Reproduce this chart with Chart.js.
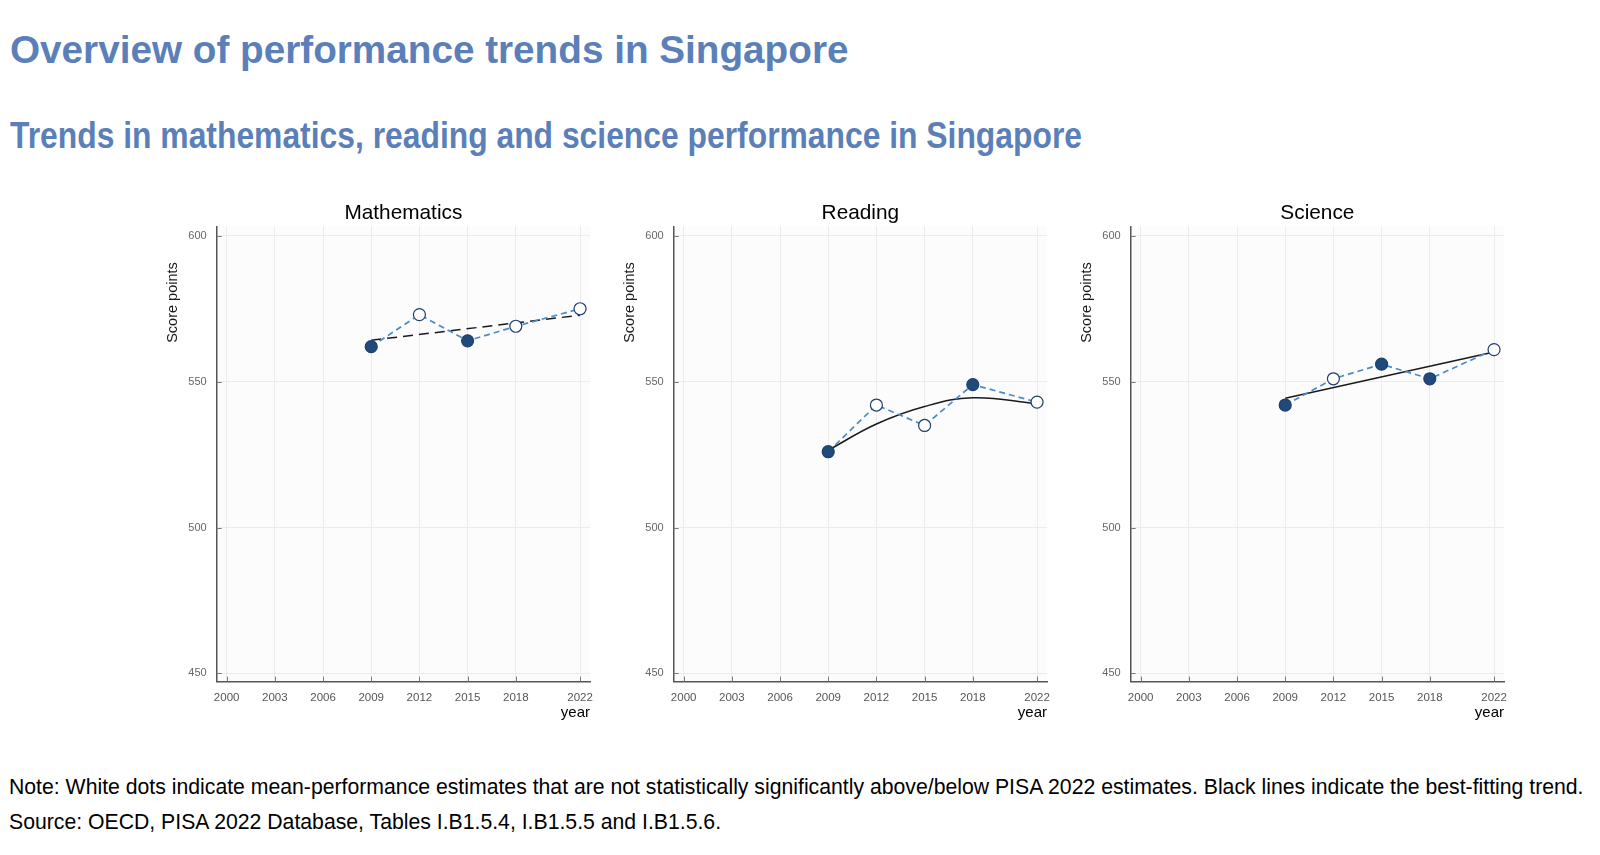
<!DOCTYPE html>
<html>
<head>
<meta charset="utf-8">
<script src="https://cdn.jsdelivr.net/npm/chart.js@4.4.0/dist/chart.umd.min.js"></script>
<style>
  html, body { margin: 0; padding: 0; background: #ffffff; }
  body { width: 1600px; height: 855px; position: relative; overflow: hidden; font-family: "Liberation Sans", Arial, sans-serif; }
  .txt { position: absolute; white-space: nowrap; line-height: 1; }
  #title { left: 10px; font-weight: bold; font-size: 38.7px; color: #5b7fb9; }
  #subtitle { left: 10px; font-weight: bold; font-size: 37px; color: #5b7fb9; transform-origin: 0 0; }
  .note { left: 9px; color: #000; font-size: 22px; }
  canvas { position: absolute; top: 190px; }
</style>
</head>
<body>
<div id="title" class="txt">Overview of performance trends in Singapore</div>
<div id="subtitle" class="txt">Trends in mathematics, reading and science performance in Singapore</div>
<canvas id="cMath" width="450" height="545" style="left:150px"></canvas>
<canvas id="cRead" width="450" height="545" style="left:607px"></canvas>
<canvas id="cSci" width="450" height="545" style="left:1064px"></canvas>
<div id="note1" class="txt note">Note: White dots indicate mean-performance estimates that are not statistically significantly above/below PISA 2022 estimates. Black lines indicate the best-fitting trend.</div>
<div id="note2" class="txt note">Source: OECD, PISA 2022 Database, Tables I.B1.5.4, I.B1.5.5 and I.B1.5.6.</div>
<script>
// ---------- data ----------
const years = [2009, 2012, 2015, 2018, 2022];
const mathScores = [562, 573, 564, 569, 575];
const readingScores = [526, 542, 535, 549, 543];
const scienceScores = [542, 551, 556, 551, 561];
// true = significantly different from 2022 (dark dot), false = white dot
const mathSignificant = [true, false, true, false, false];
const readingSignificant = [true, false, false, true, false];
const scienceSignificant = [true, false, true, true, false];
// best-fitting trend lines
const mathTrendYears = [2009, 2022];
const mathTrend = [564.2, 572.8];
const readingTrendYears = [2009, 2012, 2015, 2018, 2022];
const readingTrend = [526.5, 535.5, 541.5, 544.5, 542.5];
const scienceTrendYears = [2009, 2022];
const scienceTrend = [544.3, 560.2];
// axis ticks
const xTicks = [2000, 2003, 2006, 2009, 2012, 2015, 2018, 2022];
const yTicks = [450, 500, 550, 600];
const panelTitles = ["Mathematics", "Reading", "Science"];

// ---------- text layout ----------
function placeBaseline(el, baseline) {
  const fs = parseFloat(getComputedStyle(el).fontSize);
  el.style.top = (baseline - 0.8465 * fs) + "px";
}
const t = document.getElementById("title");
placeBaseline(t, 63.3);
const st = document.getElementById("subtitle");
const stw = st.getBoundingClientRect().width;
st.style.transform = "scaleX(" + (1072 / stw) + ")";
placeBaseline(st, 148.3);
const n1 = document.getElementById("note1");
const n2 = document.getElementById("note2");
const nw = n1.getBoundingClientRect().width;
const nfs = 22 * 1576 / nw;
n1.style.fontSize = nfs + "px";
n2.style.fontSize = nfs + "px";
placeBaseline(n1, 786.7 + 0.358 * nfs);
placeBaseline(n2, 821.4 + 0.358 * nfs);

// ---------- charts ----------
Chart.defaults.font.family = '"Liberation Sans", Arial, sans-serif';
const FONT = '"Liberation Sans", Arial, sans-serif';

const bgPlugin = {
  id: "plotBg",
  beforeDraw(chart) {
    const a = chart.chartArea, c = chart.ctx;
    c.save();
    c.fillStyle = "#fcfcfc";
    c.fillRect(a.left, a.top, a.right - a.left, a.bottom - a.top);
    c.restore();
  }
};
const innerTicks = {
  id: "innerTicks",
  afterDraw(chart) {
    const a = chart.chartArea, c = chart.ctx;
    const xs = chart.scales.x, ys = chart.scales.y;
    c.save();
    c.strokeStyle = "#7a7a7a";
    c.lineWidth = 1;
    c.beginPath();
    xs.ticks.forEach(tk => {
      const px = Math.round(xs.getPixelForValue(tk.value)) + 0.5;
      c.moveTo(px, a.bottom);
      c.lineTo(px, a.bottom - 5);
    });
    ys.ticks.forEach(tk => {
      const py = Math.round(ys.getPixelForValue(tk.value)) + 0.5;
      c.moveTo(a.left, py);
      c.lineTo(a.left + 5, py);
    });
    c.stroke();
    c.restore();
  }
};
const scoreLabel = {
  id: "scoreLabel",
  afterDraw(chart) {
    const a = chart.chartArea, c = chart.ctx;
    c.save();
    c.translate(a.left - 44, 112.5);
    c.rotate(-Math.PI / 2);
    c.fillStyle = "#1a1a1a";
    c.font = "14.5px " + FONT;
    c.textAlign = "center";
    c.textBaseline = "middle";
    c.fillText("Score points", 0, 0);
    c.restore();
  }
};

function makePanel(id, title, scores, sig, tYears, tVals, tDash, tTension) {
  new Chart(document.getElementById(id), {
    type: "scatter",
    data: {
      datasets: [
        {
          label: "trend",
          data: tYears.map((y, i) => ({ x: y, y: tVals[i] })),
          showLine: true,
          borderColor: "#1a1a1a",
          borderWidth: 1.5,
          borderDash: tDash,
          pointRadius: 0,
          tension: tTension,
          order: 2
        },
        {
          label: "score",
          data: years.map((y, i) => ({ x: y, y: scores[i] })),
          showLine: true,
          borderColor: "#4a8bc9",
          borderWidth: 1.7,
          borderDash: [6, 4],
          pointRadius: 6,
          pointHoverRadius: 6,
          pointBackgroundColor: sig.map(s => s ? "#1f4a7a" : "#ffffff"),
          pointBorderColor: "#1f3f6e",
          pointBorderWidth: 1.2,
          order: 1
        }
      ]
    },
    options: {
      responsive: false,
      animation: false,
      devicePixelRatio: 1,
      layout: { padding: { right: 10, left: 0, top: 0, bottom: 0 } },
      plugins: {
        legend: { display: false },
        tooltip: { enabled: false },
        title: {
          display: true, text: title, color: "#000", fullSize: false,
          font: { family: FONT, size: 20.8, weight: "normal", lineHeight: 1.2 },
          padding: { top: 10.5, bottom: 1.04 }
        }
      },
      scales: {
        x: {
          type: "linear", min: 1999.38, max: 2022.62,
          afterBuildTicks: s => { s.ticks = xTicks.map(v => ({ value: v })); },
          ticks: { padding: 9.5, color: "#555", font: { size: 11.5, family: FONT }, autoSkip: false, maxRotation: 0, callback: v => String(v) },
          grid: { color: "#ececec", drawTicks: false },
          border: { color: "#555", width: 1.5 },
          title: { display: true, text: "year", align: "end", color: "#000", font: { size: 15, family: FONT }, padding: { top: 0, bottom: 13 } },
          afterFit: s => { s.height = 53.4; s.paddingLeft = 0; s.paddingRight = 0; }
        },
        y: {
          type: "linear", min: 447.2, max: 603.2,
          afterBuildTicks: s => { s.ticks = yTicks.map(v => ({ value: v })); },
          ticks: { padding: 10, color: "#666", font: { size: 11, family: FONT }, callback: v => String(v) },
          grid: { color: "#ececec", drawTicks: false },
          border: { color: "#555", width: 1.5 },
          afterFit: s => { s.width = 66.7; s.paddingTop = 0; s.paddingBottom = 0; }
        }
      }
    },
    plugins: [bgPlugin, innerTicks, scoreLabel]
  });
}

makePanel("cMath", panelTitles[0], mathScores, mathSignificant, mathTrendYears, mathTrend, [10, 6], 0);
makePanel("cRead", panelTitles[1], readingScores, readingSignificant, readingTrendYears, readingTrend, [], 0.4);
makePanel("cSci", panelTitles[2], scienceScores, scienceSignificant, scienceTrendYears, scienceTrend, [], 0);
</script>
</body>
</html>
